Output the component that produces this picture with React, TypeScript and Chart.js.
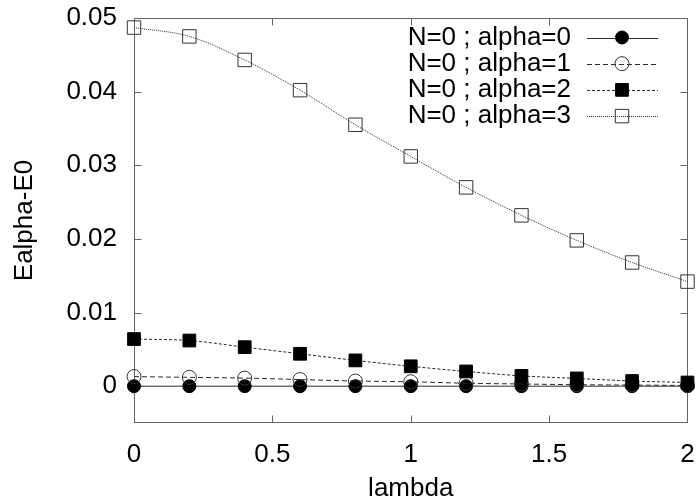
import React, { useEffect, useRef } from 'react';
import { Chart, registerables } from 'chart.js';

Chart.register(...registerables);

// ---- data ----
const lambdaValues = [0, 0.2, 0.4, 0.6, 0.8, 1.0, 1.2, 1.4, 1.6, 1.8, 2.0];
const alpha0 = [0, 0, 0, 0, 0, 0, 0, 0, 0, 0, 0];
const alpha1 = [0.0013, 0.0012, 0.0011, 0.0009, 0.0007, 0.0006, 0.0004, 0.0003, 0.0002, 0.00015, 0.0001];
const alpha2 = [0.0064, 0.0062, 0.0053, 0.0044, 0.0035, 0.0027, 0.002, 0.0014, 0.00105, 0.0007, 0.0005];
const alpha3 = [0.0487, 0.0475, 0.0443, 0.0402, 0.0355, 0.0312, 0.027, 0.0232, 0.0198, 0.0168, 0.0142];
const seriesLabels = ['N=0 ; alpha=0', 'N=0 ; alpha=1', 'N=0 ; alpha=2', 'N=0 ; alpha=3'];
const xTicks = [0, 0.5, 1, 1.5, 2];
const yTicks = [0, 0.01, 0.02, 0.03, 0.04, 0.05];
const xTitle = 'lambda';
const yTitle = 'Ealpha-E0';

const FONT = '"Liberation Sans", Arial, sans-serif';

const framePlugin = {
  id: 'gnuFrame',
  beforeDatasetsDraw(chart: any) {
    const { ctx, chartArea: a, scales } = chart;
    const x = scales.x;
    const y = scales.y;
    ctx.save();
    ctx.strokeStyle = '#666';
    ctx.lineWidth = 1;
    const L = Math.round(a.left) + 0.5;
    const R = Math.round(a.right) - 0.5;
    const T = Math.round(a.top) + 0.5;
    const B = Math.round(a.bottom) - 0.5;
    ctx.strokeRect(L, T, R - L, B - T);
    const tl = 7;
    ctx.beginPath();
    for (const v of xTicks) {
      const px = Math.round(x.getPixelForValue(v)) + 0.5;
      if (px <= L + 1 || px >= R - 1) continue;
      ctx.moveTo(px, B);
      ctx.lineTo(px, B - tl);
      ctx.moveTo(px, T);
      ctx.lineTo(px, T + tl);
    }
    for (const v of yTicks) {
      const py = Math.round(y.getPixelForValue(v)) + 0.5;
      if (py <= T + 1 || py >= B - 1) continue;
      ctx.moveTo(L, py);
      ctx.lineTo(L + tl, py);
      ctx.moveTo(R, py);
      ctx.lineTo(R - tl, py);
    }
    ctx.stroke();
    ctx.restore();
  },
};

function drawMarker(ctx: CanvasRenderingContext2D, ds: any, cx: number, cy: number) {
  const r = ds.pointRadius;
  ctx.save();
  ctx.setLineDash([]);
  ctx.lineWidth = ds.pointBorderWidth || 1;
  ctx.strokeStyle = ds.pointBorderColor;
  ctx.fillStyle = ds.pointBackgroundColor;
  ctx.beginPath();
  if (ds.pointStyle === 'rect') {
    const s = Math.SQRT1_2 * r;
    ctx.rect(cx - s, cy - s, 2 * s, 2 * s);
  } else {
    ctx.arc(cx, cy, r, 0, Math.PI * 2);
  }
  ctx.fill();
  ctx.stroke();
  ctx.restore();
}

const legendPlugin = {
  id: 'gnuLegend',
  afterDatasetsDraw(chart: any) {
    const { ctx } = chart;
    const textRight = 571;
    const lineStart = 587;
    const lineEnd = 658;
    const markX = 622;
    const top = 37.5;
    const step = 26.2;
    ctx.save();
    chart.data.datasets.forEach((ds: any, i: number) => {
      const yy = top + i * step;
      ctx.font = `26px ${FONT}`;
      ctx.fillStyle = '#000';
      ctx.textAlign = 'right';
      ctx.textBaseline = 'middle';
      ctx.fillText(ds.label, textRight, yy);
      ctx.save();
      ctx.strokeStyle = ds.borderColor;
      ctx.lineWidth = ds.borderWidth;
      ctx.setLineDash(ds.borderDash || []);
      ctx.beginPath();
      ctx.moveTo(lineStart, Math.round(yy) + 0.5);
      ctx.lineTo(lineEnd, Math.round(yy) + 0.5);
      ctx.stroke();
      ctx.restore();
      drawMarker(ctx, ds, markX, yy);
    });
    ctx.restore();
  },
};

const seriesValues = [alpha0, alpha1, alpha2, alpha3];
const seriesStyles = [
  { dash: [] as number[], style: 'circle', radius: 6.5, fill: '#000', stroke: '#000' },
  { dash: [5, 3], style: 'circle', radius: 7, fill: 'rgba(0,0,0,0)', stroke: '#333' },
  { dash: [3, 2], style: 'rect', radius: 9, fill: '#000', stroke: '#000' },
  { dash: [1, 1], style: 'rect', radius: 9.5, fill: 'rgba(0,0,0,0)', stroke: '#333' },
];

export default function App() {
  const ref = useRef<HTMLCanvasElement | null>(null);
  useEffect(() => {
    if (!ref.current) return;
    const datasets = seriesValues.map((vals, i) => {
      const st = seriesStyles[i];
      return {
        label: seriesLabels[i],
        data: lambdaValues.map((x, j) => ({ x, y: vals[j] })),
        borderColor: '#2a2a2a',
        borderWidth: 1,
        borderDash: st.dash,
        pointStyle: st.style,
        pointRadius: st.radius,
        pointBackgroundColor: st.fill,
        pointBorderColor: st.stroke,
        pointBorderWidth: 1,
        cubicInterpolationMode: 'monotone',
        clip: false,
        fill: false,
        order: 3 - i,
      };
    });
    const chart = new Chart(ref.current, {
      type: 'line',
      data: { datasets } as any,
      options: {
        animation: false,
        responsive: false,
        events: [],
        layout: { padding: { top: 18, right: 9, bottom: 0, left: 0 } },
        plugins: { legend: { display: false }, tooltip: { enabled: false } },
        scales: {
          x: {
            type: 'linear',
            min: 0,
            max: 2,
            afterBuildTicks: (s: any) => {
              s.ticks = xTicks.map((v) => ({ value: v }));
            },
            afterFit: (s: any) => {
              s.height = 81;
              s.paddingLeft = 0;
              s.paddingRight = 0;
              s.paddingTop = 0;
              s.paddingBottom = 0;
            },
            grid: { display: false, drawTicks: false },
            border: { display: false },
            ticks: {
              callback: (v: any) => String(v),
              font: { family: FONT, size: 26 },
              color: '#000',
              padding: 16,
              maxRotation: 0,
              autoSkip: false,
            },
            title: {
              display: true,
              text: xTitle,
              font: { family: FONT, size: 26 },
              color: '#000',
              padding: { top: 0, bottom: 0 },
            },
          },
          y: {
            type: 'linear',
            min: -0.005,
            max: 0.05,
            afterBuildTicks: (s: any) => {
              s.ticks = yTicks.map((v) => ({ value: v }));
            },
            afterFit: (s: any) => {
              s.width = 134;
              s.paddingLeft = 0;
              s.paddingRight = 0;
              s.paddingTop = 0;
              s.paddingBottom = 0;
            },
            grid: { display: false, drawTicks: false },
            border: { display: false },
            ticks: {
              callback: (v: any) => String(Number(Number(v).toFixed(4))),
              font: { family: FONT, size: 26 },
              color: '#000',
              padding: 17,
              autoSkip: false,
            },
            title: {
              display: true,
              text: yTitle,
              font: { family: FONT, size: 26 },
              color: '#000',
              padding: { top: 9, bottom: 0 },
            },
          },
        },
      } as any,
      plugins: [framePlugin, legendPlugin],
    });
    return () => chart.destroy();
  }, []);
  return (
    <div style={{ position: 'fixed', left: 0, top: 0, width: 698, height: 504, background: '#fff' }}>
      <canvas ref={ref} width={698} height={504} style={{ display: 'block' }} />
    </div>
  );
}
